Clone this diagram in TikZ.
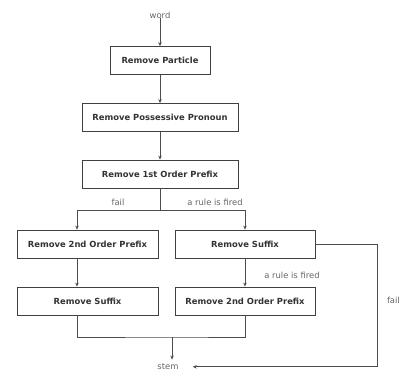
\documentclass[tikz,border=0pt]{standalone}
\usepackage{fontspec}
\setmainfont{DejaVu Sans}
\usetikzlibrary{arrows.meta}
\begin{document}
\begin{tikzpicture}[x=1pt,y=-1pt,
  box/.style={draw=black!75,line width=0.8pt,minimum height=28pt,inner sep=0pt,font=\fontsize{8.4}{9}\selectfont\bfseries\color{black!80}},
  lbl/.style={font=\fontsize{8.4}{9}\selectfont\color{black!60},inner sep=0pt},
  con/.style={draw=black!70,line width=0.7pt},
  arr/.style={con,-{Stealth[length=4pt,width=3.5pt]}}]
\useasboundingbox (0,0) rectangle (401,371);
\fill[white] (0,0) rectangle (401,371);
\node[lbl] (word) at (160,15) {word};
\node[box,minimum width=100pt] (b1) at (160,60.5) {Remove Particle};
\node[box,minimum width=156pt] (b2) at (160,117.5) {Remove Possessive Pronoun};
\node[box,minimum width=156pt] (b3) at (160,174) {Remove 1st Order Prefix};
\node[box,minimum width=141pt] (b4) at (87.5,244) {Remove 2nd Order Prefix};
\node[box,minimum width=140pt] (b5) at (245,244) {Remove Suffix};
\node[box,minimum width=141pt] (b6) at (87.5,301) {Remove Suffix};
\node[box,minimum width=140pt] (b7) at (245,301) {Remove 2nd Order Prefix};
\node[lbl,anchor=south] (stem) at (168,370) {stem};
\node[lbl] (fail1) at (118,202) {fail};
\node[lbl] (rule1) at (215,202) {a rule is fired};
\node[lbl] (rule2) at (292,275) {a rule is fired};
\node[lbl,anchor=east] (fail2) at (400,300) {fail};
\coordinate (split) at (160,210);
\coordinate (join) at (172,337);
\draw[arr] (word) -- (b1);
\draw[arr] (b1) -- (b2);
\draw[arr] (b2) -- (b3);
\draw[con] (b3.south) -- (split);
\draw[arr] (split) -| (b4.north -| 77,0);
\draw[arr] (split) -| (b5.north);
\draw[arr] (b4.south -| 77,0) -- (b6.north -| 77,0);
\draw[arr] (b5) -- (b7);
\draw[con] (b6.south -| 77,0) |- (join) -| (b7.south);
\draw[arr,shorten >=4pt] (join) -- (join |- stem.north);
\draw[arr,shorten >=14pt] (b5.east) -- (377,244) |- (stem);
\end{tikzpicture}
\end{document}
